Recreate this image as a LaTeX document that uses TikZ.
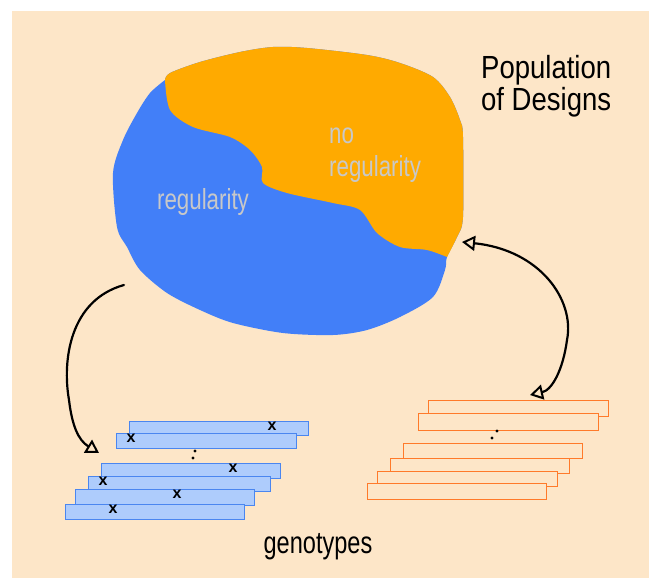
\documentclass[tikz,border=0pt]{standalone}
\usepackage{fontspec}
\setmainfont{Liberation Sans}
\usetikzlibrary{arrows.meta}
\definecolor{bgc}{HTML}{FDE6C8}
\definecolor{blobblue}{HTML}{427FF8}
\definecolor{bloborange}{HTML}{FFAA00}
\definecolor{barblue}{HTML}{AECCFC}
\definecolor{barblueline}{HTML}{4A86F0}
\definecolor{barorange}{HTML}{FF7A2A}
\definecolor{txtgray}{HTML}{C8C8C8}
\tikzset{
  bluebar/.style={fill=barblue, draw=barblueline, line width=1pt},
  orangebar/.style={fill=bgc, draw=barorange, line width=1pt},
  xmark/.style={font=\fontsize{16}{16}\selectfont\bfseries, inner sep=0pt},
  blobtext/.style={text=txtgray, font=\fontsize{29}{33}\selectfont, inner sep=0pt, xscale=0.77, align=left},
  bigtext/.style={text=black, font=\fontsize{32}{32}\selectfont, inner sep=0pt, align=left},
  curvearrow/.style={line width=2.2pt, line cap=round},
  tipopen/.tip={Triangle[open, length=13pt, width=15pt, line width=2pt]},
  dotmark/.style={circle, fill=black, inner sep=0pt, minimum size=3.4pt}
}
\begin{document}
\begin{tikzpicture}[x=1pt,y=-1pt]
\useasboundingbox (0,0) rectangle (649,578);
\fill[white] (0,0) rectangle (649,578);
\fill[bgc] (12,11) rectangle (649,578);
% blob: blue full shape
\fill[blobblue] plot[smooth, tension=0.5] coordinates {(165,80) (170,73) (200,62) (240,52) (273,47) (307,48) (367,55) (400,63) (433,77) (450,97) (460,120) (463,137) (463,217) (457,237) (447,257) (445,270) (433,297) (400,317) (367,330) (333,335) (283,333) (233,323) (200,310) (167,293) (140,270) (127,247) (117,227) (113,173) (123,140) (137,113) (150,93) (165,80)};
% orange upper region
\fill[bloborange] plot[smooth, tension=0.5] coordinates {(165,80) (170,73) (200,62) (240,52) (273,47) (307,48) (367,55) (400,63) (433,77) (450,97) (460,120) (463,137) (463,217) (457,237) (447,257)}
  -- plot[smooth, tension=0.5] coordinates {(447,257) (427,250) (400,247) (377,233) (360,210) (333,203) (287,193) (263,183) (262,167) (250,150) (230,137) (193,127) (170,110) (165,80)} -- cycle;
\node[blobtext, anchor=center] (reg) at (203,202) {regularity};
\node[blobtext, anchor=west] (noreg) at (329,155) {no\\regularity};
\node[bigtext, anchor=north west, xscale=0.86] (pop) at (481,55) {Population\\of Designs};
% blue genotype bars
\path[bluebar] (129,421) rectangle (308,435);
\path[bluebar] (116,433) rectangle (296,448);
\path[bluebar] (101,463) rectangle (280,478);
\path[bluebar] (88,476) rectangle (270,491);
\path[bluebar] (75,489) rectangle (254,505);
\path[bluebar] (65,504) rectangle (244,519);
\node[xmark] (x1) at (272,426) {x};
\node[xmark] (x2) at (131,438) {x};
\node[xmark] (x3) at (233,468) {x};
\node[xmark] (x4) at (103,481) {x};
\node[xmark] (x5) at (177,494) {x};
\node[xmark] (x6) at (113,509) {x};
\node[dotmark] (bd1) at (195,451) {};
\node[dotmark] (bd2) at (193,458) {};
% orange genotype bars
\path[orangebar] (428,400) rectangle (608,416);
\path[orangebar] (418,413) rectangle (598,430);
\path[orangebar] (403,443) rectangle (582,458);
\path[orangebar] (390,458) rectangle (569,473);
\path[orangebar] (377,471) rectangle (557,486);
\path[orangebar] (367,483) rectangle (546,499);
\node[dotmark] (od1) at (497,431) {};
\node[dotmark] (od2) at (492,438) {};
\node[bigtext, anchor=base, xscale=0.76, font=\fontsize{31}{31}\selectfont] (geno) at (318,553) {genotypes};
% arrows
\coordinate (la) at (124,285);
\coordinate (lb) at (99,453);
\coordinate (ra) at (462,242);
\coordinate (rb) at (530,395);
\draw[curvearrow, -tipopen] (la) .. controls (70,300) and (62,360) .. (69,400) .. controls (72,425) and (78,440) .. (lb);
\draw[curvearrow, tipopen-tipopen] (ra) .. controls (540,250) and (575,300) .. (567,340) .. controls (563,370) and (552,390) .. (rb);
\end{tikzpicture}
\end{document}
